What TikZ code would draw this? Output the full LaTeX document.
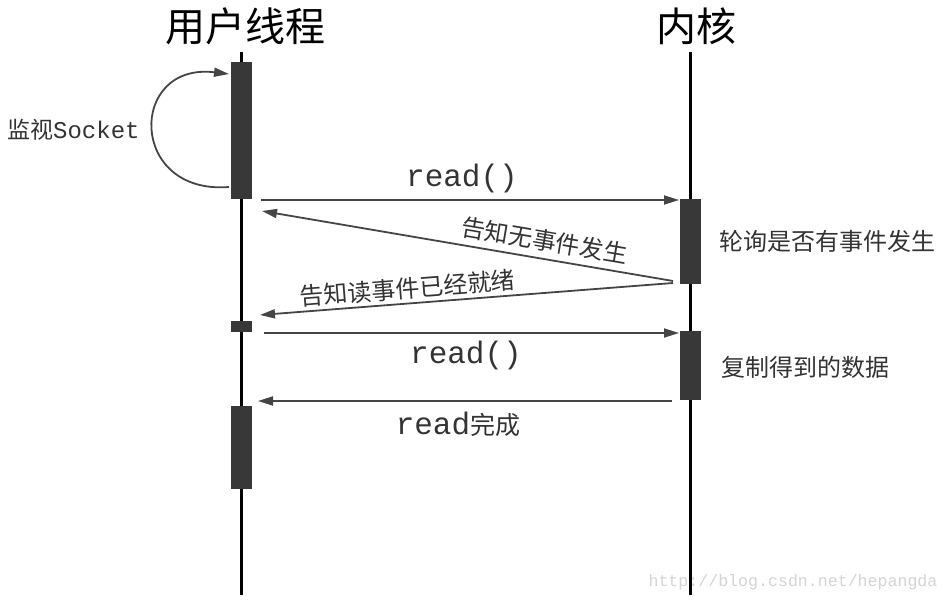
\documentclass[tikz,border=0pt]{standalone}
\usepackage{fontspec}
\newfontfamily\cjk{Noto Sans CJK SC}
\newfontfamily\mono{Liberation Mono}
\usetikzlibrary{arrows.meta}
\definecolor{actgray}{HTML}{383838}
\definecolor{msggray}{HTML}{454545}
\definecolor{txtgray}{HTML}{333333}
\definecolor{wmgray}{HTML}{D4D4D4}
\begin{document}
\begin{tikzpicture}[x=1pt,y=-1pt,
  life/.style={line width=3pt, black},
  act/.style={fill=actgray, draw=none, minimum width=21pt, inner sep=0pt, anchor=north},
  msg/.style={draw=msggray, line width=1.8pt, -{Triangle[length=15pt,width=9pt]}},
  title/.style={font=\cjk\fontsize{40}{40}\selectfont, black, inner sep=0pt},
  lbl/.style={font=\cjk\fontsize{24}{24}\selectfont, text=txtgray, inner sep=0pt},
  code/.style={font=\mono\fontsize{31}{31}\selectfont, text=txtgray, inner sep=0pt},
  wm/.style={font=\mono\fontsize{16.6}{16.6}\selectfont, text=wmgray, inner sep=0pt}]
\useasboundingbox (0,0) rectangle (948,604);
% titles
\node[title] (tu) at (245,26) {用户线程};
\node[title] (tk) at (696,26) {内核};
% lifelines
\coordinate (lu1) at (241,52);
\coordinate (lu2) at (241,595);
\coordinate (lk1) at (690,52);
\coordinate (lk2) at (690,595);
\draw[life] (lu1) -- (lu2);
\draw[life] (lk1) -- (lk2);
% activation boxes
\node[act, minimum height=137pt] (ua) at (241,62) {};
\node[act, minimum height=11pt] (ub) at (241,321) {};
\node[act, minimum height=83pt] (uc) at (241,406) {};
\node[act, minimum height=85pt] (ka) at (690,199) {};
\node[act, minimum height=69pt] (kb) at (690,331) {};
% self loop
\coordinate (l0) at (229,187);
\coordinate (l1) at (229,74);
\draw[msg] (l0) .. controls (128,195) and (128,62) .. (l1);
\node[font=\fontsize{23}{23}\selectfont, text=txtgray, inner sep=0pt, anchor=west] (mon) at (7,130) {{\cjk 监视}{\mono\fontsize{24}{24}\selectfont Socket}};
% messages
\coordinate (a1) at (261,200); \coordinate (b1) at (679,200);
\draw[msg] (a1) -- (b1);
\node[code] (r1) at (462,178) {read()};
\coordinate (a2) at (673,281); \coordinate (b2) at (262,211);
\draw[msg] (a2) -- node[lbl, pos=0.32, sloped, above=6pt] (n2) {告知无事件发生} (b2);
\coordinate (a3) at (673,283); \coordinate (b3) at (260,315);
\draw[msg] (a3) -- node[lbl, pos=0.64, sloped, above=3pt] (n3) {告知读事件已经就绪} (b3);
\coordinate (a4) at (264,333); \coordinate (b4) at (679,333);
\draw[msg] (a4) -- (b4);
\node[code] (r2) at (466,355) {read()};
\coordinate (a5) at (672,401); \coordinate (b5) at (258,401);
\draw[msg] (a5) -- (b5);
\node[code] (r3) at (458,424) {read{\cjk\fontsize{25}{25}\selectfont 完成}};
% kernel side notes
\node[lbl, anchor=west] (k1) at (719,241) {轮询是否有事件发生};
\node[lbl, anchor=west] (k2) at (721,367) {复制得到的数据};
% watermark
\node[wm] (w) at (793,582) {http://blog.csdn.net/hepangda};
\end{tikzpicture}
\end{document}
